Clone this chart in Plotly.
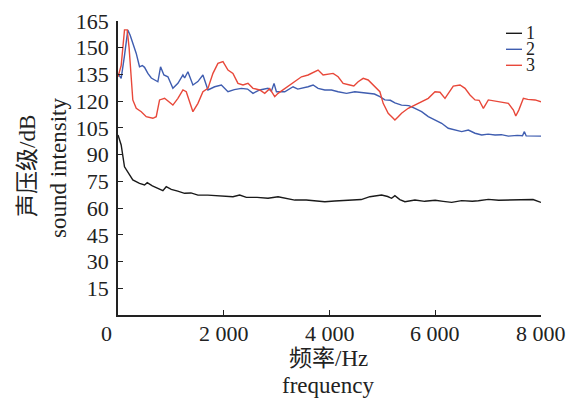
import plotly.graph_objects as go

# ---- data ----
freq_1 = [0, 30, 60, 123, 186, 280, 407, 502, 553, 650, 754, 849, 912, 1007, 1130, 1259, 1380,
          1512, 1700, 1890, 2030, 2174, 2301, 2428, 2630, 2837, 3027, 3180, 3343, 3560, 3784,
          3911, 4100, 4417, 4600, 4763, 4870, 4985, 5100, 5174, 5237, 5330, 5426, 5616, 5800,
          6000, 6150, 6311, 6500, 6700, 6815, 7004, 7200, 7450, 7700, 7850, 8000]
level_1 = [101, 98, 95.4, 83.2, 80.4, 75.8, 73.9, 73, 74.3, 72.5, 71.1, 69.8, 72, 70.5, 69.5,
           68.3, 68.5, 67.3, 67.3, 66.8, 66.8, 66.4, 67.3, 66, 66, 65.5, 66.4, 65.5, 64.5, 64.5,
           64.1, 63.6, 64, 64.5, 64.8, 66.4, 66.8, 67.3, 66.5, 65.5, 67, 64.8, 63.6, 64.5, 63.8,
           64.4, 63.8, 63.2, 64.2, 63.8, 64.1, 64.9, 64.4, 64.6, 64.9, 64.8, 63.2]

freq_2 = [0, 60, 120, 186, 230, 280, 345, 407, 460, 502, 565, 630, 691, 754, 805, 868, 944,
          1038, 1133, 1228, 1260, 1322, 1417, 1510, 1606, 1701, 1828, 1955, 2080, 2200, 2333,
          2450, 2553, 2680, 2837, 2900, 2951, 2996, 3154, 3311, 3400, 3470, 3595, 3690, 3784,
          3911, 4038, 4163, 4322, 4479, 4600, 4731, 4850, 4953, 5047, 5150, 5237, 5363, 5500,
          5616, 5742, 5868, 5995, 6121, 6246, 6373, 6500, 6626, 6752, 6879, 7000, 7131, 7250,
          7383, 7550, 7650, 7686, 7720, 7888, 8000]
level_2 = [135.5, 132.8, 145, 160, 157, 152.5, 146.8, 139.3, 140, 139, 135.6, 133, 131.9, 130.9,
           139.3, 134.7, 133.7, 127.2, 130, 134.7, 133, 136.5, 129.1, 131, 134.7, 126.3, 128.1,
           129.1, 125.3, 126.5, 127.2, 126.8, 124.4, 126.3, 127.2, 125.5, 130, 125.3, 125.3,
           128.1, 126.8, 127.2, 128.1, 129.1, 127.2, 126.3, 126.3, 125.3, 124.4, 125.3, 125,
           124.4, 124, 122.5, 120.7, 120.5, 119, 117.8, 117.5, 116, 114.1, 111.3, 109.4, 107.6,
           104.8, 103.8, 102.9, 103.8, 102, 101, 101.5, 101, 101.2, 100.4, 100.8, 100.6, 102.9,
           100.5, 100.4, 100.4]

freq_3 = [0, 60, 123, 174, 210, 237, 280, 345, 440, 534, 600, 659, 723, 786, 881, 950, 1038,
          1133, 1228, 1291, 1354, 1417, 1512, 1606, 1701, 1796, 1890, 1985, 2080, 2174, 2269,
          2364, 2458, 2553, 2680, 2775, 2870, 2964, 3027, 3121, 3216, 3343, 3470, 3595, 3722,
          3784, 3879, 3970, 4068, 4163, 4258, 4384, 4460, 4542, 4637, 4731, 4858, 4953, 5015,
          5110, 5205, 5237, 5300, 5363, 5489, 5616, 5742, 5868, 5995, 6090, 6184, 6246, 6341,
          6468, 6563, 6657, 6752, 6830, 6910, 7004, 7130, 7258, 7383, 7478, 7523, 7580, 7667,
          7750, 7888, 8000]
level_3 = [133.7, 140, 160, 160, 150, 137.5, 120.7, 116, 114.1, 111.3, 111, 110.4, 111.3, 120.7,
           121.6, 120, 117.8, 121.6, 126.3, 125.3, 119.7, 114.1, 118.8, 125.3, 127.2, 135.6,
           141.2, 142.2, 137.5, 135.6, 130, 129.1, 130, 127.2, 126.3, 124.4, 127, 122.5, 124.4,
           126.3, 128.1, 130.9, 133.7, 134.7, 136.5, 137.5, 134.7, 135, 135.6, 133.7, 130, 129.1,
           128.5, 130.9, 132.8, 131.9, 128.1, 125.3, 118.8, 113.2, 110.4, 109.4, 111.3, 113.2,
           116, 117.8, 119.7, 121.6, 125.3, 125, 121.6, 124.4, 128.5, 129.1, 127.2, 123.5, 120.7,
           120.5, 116, 120.7, 120.2, 119.7, 118.8, 115, 111.7, 115, 121.6, 121, 120.7, 119.7]

series_names = ["1", "2", "3"]
x_tick_vals = [0, 2000, 4000, 6000, 8000]
x_tick_text = ["0", "2 000", "4 000", "6 000", "8 000"]
y_tick_vals = [15, 30, 45, 60, 75, 90, 105, 120, 135, 150, 165]

colors = ["#1a1a1a", "#3f5db0", "#e8483a"]
FONT = "Liberation Serif, Times New Roman, Noto Sans CJK SC, serif"
FS = 22      # tick labels
FT = 23      # titles
FL = 18      # legend

# page body has an 8px margin: work in screen pixels, convert to figure space
OFF = 8
FIG_W, FIG_H = 576 - OFF, 402 - OFF
L, R, T, B = 118, 541, 21, 315          # plot area in screen pixels
W, H = R - L, B - T


def px_x(p):
    return (p - L) / W


def px_y(p):
    return (B - p) / H


fig = go.Figure()
for fx, lv, name, c in zip([freq_1, freq_2, freq_3], [level_1, level_2, level_3], series_names, colors):
    fig.add_trace(go.Scatter(x=fx, y=lv, mode="lines", name=name,
                             line=dict(color=c, width=1.4), showlegend=False))

fig.update_layout(
    width=FIG_W, height=FIG_H,
    margin=dict(l=L - OFF, r=576 - R, t=T - OFF, b=402 - B, autoexpand=False),
    paper_bgcolor="white", plot_bgcolor="white",
    font=dict(family=FONT, size=FS, color="#222"),
    xaxis=dict(range=[0, 8000], tickvals=x_tick_vals, showticklabels=False,
               ticks="inside", ticklen=5, tickwidth=1.3, tickcolor="#222",
               showline=True, linecolor="#222", linewidth=1.5, automargin=False,
               showgrid=False, zeroline=False),
    yaxis=dict(range=[0, 165], tickvals=y_tick_vals,
               ticks="inside", ticklen=5, tickwidth=1.3, tickcolor="#222",
               showline=True, linecolor="#222", linewidth=1.5, automargin=False,
               showgrid=False, zeroline=False, ticklabelstandoff=3),
)

# x tick labels (origin "0" sits left of the corner)
for v, t in zip(x_tick_vals, x_tick_text):
    if v == 0:
        fig.add_annotation(x=px_x(106), y=px_y(333), xref="paper", yref="paper", text=t,
                           showarrow=False, xanchor="center", yanchor="middle",
                           font=dict(family=FONT, size=FS, color="#222"))
    else:
        fig.add_annotation(x=v, y=px_y(333), xref="x", yref="paper", text=t,
                           showarrow=False, xanchor="center", yanchor="middle",
                           font=dict(family=FONT, size=FS, color="#222"))

# axis titles
fig.add_annotation(x=px_x(328), y=px_y(358), xref="paper", yref="paper",
                   text="频率/Hz", showarrow=False, xanchor="center", yanchor="middle",
                   font=dict(family=FONT, size=FT, color="#222"))
fig.add_annotation(x=px_x(328), y=px_y(385), xref="paper", yref="paper",
                   text="frequency", showarrow=False, xanchor="center", yanchor="middle",
                   font=dict(family=FONT, size=FT, color="#222"))
fig.add_annotation(x=px_x(27), y=px_y(166), xref="paper", yref="paper",
                   text="声压级/dB", showarrow=False, textangle=-90,
                   xanchor="center", yanchor="middle",
                   font=dict(family=FONT, size=FT, color="#222"))
fig.add_annotation(x=px_x(58), y=px_y(168), xref="paper", yref="paper",
                   text="sound intensity", showarrow=False, textangle=-90,
                   xanchor="center", yanchor="middle",
                   font=dict(family=FONT, size=FT, color="#222"))

# legend (manual)
for i, (name, c) in enumerate(zip(series_names, colors)):
    py = 33.3 + 16 * i
    fig.add_shape(type="line", xref="paper", yref="paper",
                  x0=px_x(506), x1=px_x(522), y0=px_y(py), y1=px_y(py),
                  line=dict(color=c, width=1.4))
    fig.add_annotation(x=px_x(525), y=px_y(py), xref="paper", yref="paper",
                       text=name, showarrow=False, xanchor="left", yanchor="middle",
                       font=dict(family=FONT, size=FL, color="#222"),
                       height=14, valign="middle", borderpad=0)

fig.write_html("out.html")
